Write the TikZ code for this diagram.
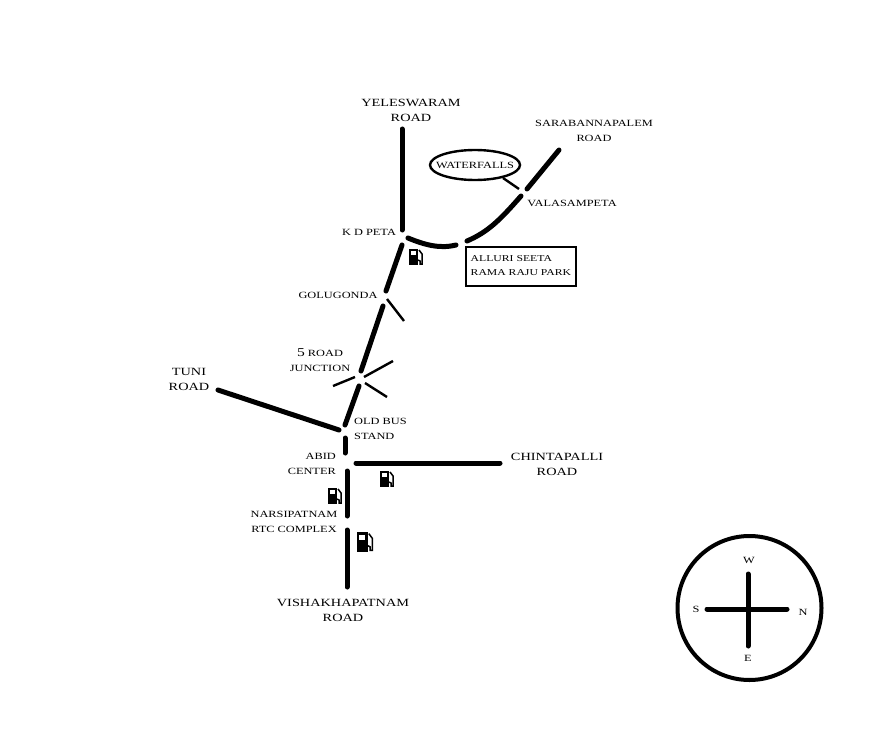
\documentclass[tikz,border=0pt]{standalone}
\usepackage{fontspec}
\setmainfont[FakeStretch=1.3]{Liberation Serif}
\usetikzlibrary{shapes.geometric}
\tikzset{
    road/.style={line width=5pt,line cap=round},
    spur/.style={line width=2.4pt},
    place/.style={align=center,inner sep=0pt,font=\fontsize{9.5}{14.5}\selectfont},
    bigplace/.style={align=center,inner sep=0pt,font=\fontsize{11}{15}\selectfont},
    pump/.pic={
      \fill (-6,-8) rectangle (3,8);
      \fill[white] (-4,-6) rectangle (1,-2);
      \draw[line width=1.5pt] (3,3) -- (5,4) -- (5,7) -- (7,7) -- (7,-3) -- (4,-7);
    }
}
\begin{document}
\begin{tikzpicture}[x=1pt,y=-1pt]
    \useasboundingbox (0,0) rectangle (878,733);
    % road ends
    \coordinate (ytop) at (402,129);
    \coordinate (ybot) at (402,230);
    \coordinate (kda) at (402,245);
    \coordinate (gola) at (386,291);
    \coordinate (golb) at (383,306);
    \coordinate (juna) at (361,371);
    \coordinate (junb) at (359,386);
    \coordinate (busa) at (345,425);
    \coordinate (tuni) at (218,390);
    \coordinate (busb) at (339,430);
    \coordinate (abia) at (345,438);
    \coordinate (abib) at (345,453);
    \coordinate (abic) at (347,471);
    \coordinate (nara) at (347,516);
    \coordinate (narb) at (347,530);
    \coordinate (vish) at (347,587);
    \coordinate (chia) at (356,463);
    \coordinate (chib) at (500,463);
    \coordinate (kdb) at (408,238);
    \coordinate (parka) at (456,245);
    \coordinate (parkb) at (467,241);
    \coordinate (vala) at (521,196);
    \coordinate (valb) at (527,189);
    \coordinate (sara) at (559,150);
    % side roads
    \coordinate (falla) at (503,178);
    \coordinate (fallb) at (519,189);
    \coordinate (gols) at (387,299);
    \coordinate (gole) at (404,321);
    \coordinate (jnea) at (364,377);
    \coordinate (jneb) at (393,361);
    \coordinate (jwa) at (355,377);
    \coordinate (jwb) at (333,386);
    \coordinate (jsa) at (365,383);
    \coordinate (jsb) at (387,397);
    % labels
    \node[bigplace] (yeleswaram) at (411,110) {YELESWARAM\\ROAD};
    \node[place] (sarabanna) at (594,131) {SARABANNAPALEM\\ROAD};
    \node[ellipse,draw,line width=2.4pt,minimum width=90pt,minimum height=30pt,inner sep=0pt] (falls) at (475,165) {};
    \node[place] (fallstext) at (475,165) {WATERFALLS};
    \node[place] (valasam) at (572,203) {VALASAMPETA};
    \node[place] (kdpeta) at (369,232) {K D PETA};
    \node[draw,line width=2.4pt,minimum width=110pt,minimum height=39pt,inner sep=0pt] (park) at (521,266.5) {};
    \node[place,anchor=west,align=left,font=\fontsize{9}{14}\selectfont] (parktext) at (470.5,266) {ALLURI SEETA\\RAMA RAJU PARK};
    \node[place] (golugonda) at (338,295) {GOLUGONDA};
    \node[place] (fiveroad) at (320,360) {{\fontsize{12}{14}\selectfont 5} ROAD\\JUNCTION};
    \node[bigplace] (tuniroad) at (189,379) {TUNI\\ROAD};
    \node[place] (oldbus) at (354,429) [anchor=west,align=left] {OLD BUS\\STAND};
    \node[place] (abid) at (336,464) [anchor=east,align=right] {ABID\\CENTER};
    \node[bigplace] (chintapalli) at (557,464) {CHINTAPALLI\\ROAD};
    \node[place] (narsi) at (294,522) {NARSIPATNAM\\RTC COMPLEX};
    \node[bigplace] (vishroad) at (343,610) {VISHAKHAPATNAM\\ROAD};
    % main roads
    \draw[road] (ytop) -- (ybot);
    \draw[road] (kda) -- (gola);
    \draw[road] (golb) -- (juna);
    \draw[road] (junb) -- (busa);
    \draw[road] (tuni) -- (busb);
    \draw[road] (abia) -- (abib);
    \draw[road] (abic) -- (nara);
    \draw[road] (narb) -- (vish);
    \draw[road] (chia) -- (chib);
    \draw[road] (kdb) .. controls (425,245) and (440,249) .. (parka);
    \draw[road] (parkb) .. controls (488,232) and (500,220) .. (vala);
    \draw[road] (valb) -- (sara);
    \draw[spur] (falla) -- (fallb);
    \draw[spur] (gols) -- (gole);
    \draw[spur] (jnea) -- (jneb);
    \draw[spur] (jwa) -- (jwb);
    \draw[spur] (jsa) -- (jsb);
    % fuel pumps
    \pic at (415,257) {pump};
    \pic at (386,479) {pump};
    \pic at (334,496) {pump};
    \pic[scale=1.2] at (364,542) {pump};
    % compass
    \node[circle,draw,line width=4pt,minimum size=144pt,inner sep=0pt] (compass) at (749.5,608) {};
    \coordinate (cw) at (748,574);
    \coordinate (ce) at (748,646);
    \coordinate (cs) at (707,609);
    \coordinate (cn) at (787,609);
    \draw[road] (cw) -- (ce);
    \draw[road] (cs) -- (cn);
    \node[place] (west) at (749,560) {W};
    \node[place] (east) at (748,658) {E};
    \node[place] (south) at (696,609) {S};
    \node[place] (north) at (803,612) {N};
\end{tikzpicture}
\end{document}
